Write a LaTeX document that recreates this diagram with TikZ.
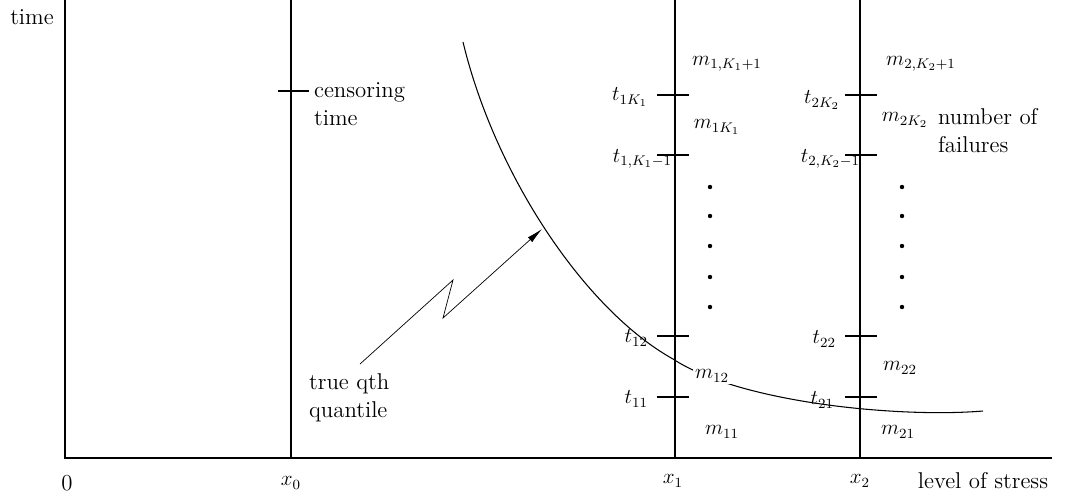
\documentclass[tikz,border=0pt]{standalone}
\usetikzlibrary{arrows.meta,positioning}
\begin{document}
\begin{tikzpicture}[
    x=0.02cm, y=-0.02cm,
    lbl/.style={font=\large, inner sep=1pt},
    txt/.style={font=\fontsize{13}{16}\selectfont, inner sep=1pt},
    lineax/.style={line width=0.6pt},
    tickmark/.style={line width=0.6pt},
    >={Latex[length=3.2mm,width=1.3mm]}
]
\useasboundingbox (0,0) rectangle (1074,495);
% axes
\coordinate (top) at (65,0);
\coordinate (o) at (65,458);
\coordinate (xend) at (1052,458);
\draw[lineax] (top) -- (o) -- (xend);
% stress levels
\foreach \n/\xx in {0/291,1/675,2/860}{
    \coordinate (v\n) at (\xx,0);
    \coordinate (b\n) at (\xx,458);
    \draw[lineax] (v\n) -- (b\n);
}
% ticks
\draw[tickmark] (278,91) -- (309,91);
\foreach \yy in {95,155,336,397}{
    \draw[tickmark] (657,\yy) -- (689,\yy);
    \draw[tickmark] (845,\yy) -- (877,\yy);
}
% dots
\foreach \yy in {187,216,246,277,307}{
    \fill (710,\yy) circle (2.2);
    \fill (902,\yy) circle (2.2);
}
% true quantile curve
\coordinate (cstart) at (463,42);
\coordinate (cmid) at (673,359);
\coordinate (cend) at (983,411);
\draw[lineax] (cstart) .. controls (495,175) and (585,310) .. (cmid)
    .. controls (740,403) and (900,418) .. (cend);
% labels
\node[txt] (time) at (32,17) {time};
\node[txt, anchor=west, align=left] (cens) at (312,104) {censoring\\time};
\node[lbl] (m1top) at (727,64) {$m_{1,K_1+1}$};
\node[lbl, anchor=east] (t1K) at (650,97) {$t_{1K_1}$};
\node[lbl] (m1K) at (717,127) {$m_{1K_1}$};
\node[lbl, anchor=east] (t1Km) at (674,159) {$t_{1,K_1-1}$};
\node[lbl, anchor=east] (t12) at (650,338) {$t_{12}$};
\node[lbl, fill=white] (m12) at (712,376) {$m_{12}$};
\node[lbl, anchor=east] (t11) at (650,399) {$t_{11}$};
\node[lbl] (m11) at (722,432) {$m_{11}$};
\node[lbl] (m2top) at (921,64) {$m_{2,K_2+1}$};
\node[lbl, anchor=east] (t2K) at (842,100) {$t_{2K_2}$};
\node[lbl] (m2K) at (905,120) {$m_{2K_2}$};
\node[txt, anchor=west, align=left] (nfail) at (936,131) {number of\\failures};
\node[lbl, anchor=east] (t2Km) at (862,159) {$t_{2,K_2-1}$};
\node[lbl, anchor=east] (t22) at (838,339) {$t_{22}$};
\node[lbl] (m22) at (900,368) {$m_{22}$};
\node[lbl, anchor=east] (t21) at (836,400) {$t_{21}$};
\node[lbl] (m21) at (898,432) {$m_{21}$};
\node[txt, anchor=west, align=left] (quant) at (307,398) {true qth\\quantile};
% axis labels
\node[txt] (zero) at (67,483) {0};
\node[lbl] (x0) at (291,483) {$x_0$};
\node[lbl] (x1) at (673,481) {$x_1$};
\node[lbl] (x2) at (860,481) {$x_2$};
\node[txt] (stress) at (983,481) {level of stress};
% arrow to the curve
\coordinate (q0) at (360,364);
\coordinate (q1) at (453,280);
\coordinate (q2) at (443,318);
\coordinate (qtip) at (542,229);
\draw[->] (q0) -- (q1) -- (q2) -- (qtip);
\end{tikzpicture}
\end{document}
